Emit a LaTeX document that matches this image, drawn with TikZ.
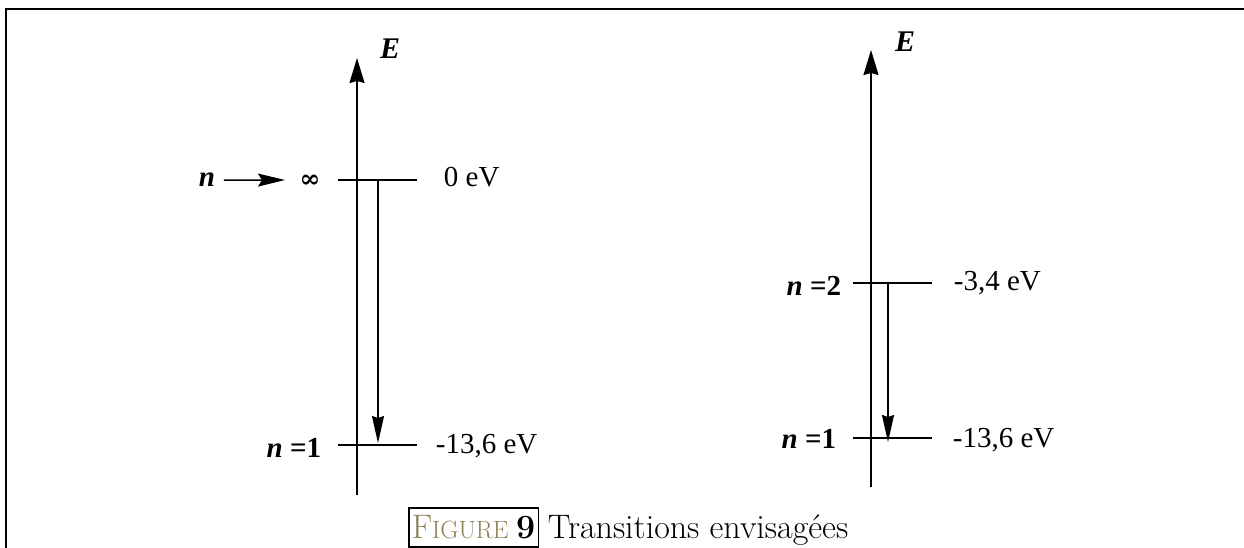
\documentclass[tikz,border=0pt]{standalone}
\usepackage{fontspec}
\newfontfamily\timesfont{Liberation Serif}
\newfontfamily\infont{DejaVu Serif}
\usetikzlibrary{arrows.meta}
\definecolor{figgold}{RGB}{139,131,90}
\begin{document}
\begin{tikzpicture}[x=1pt,y=-1pt,line width=1.8pt,
  every node/.style={font=\timesfont\fontsize{29}{30}\selectfont,inner sep=0pt},
  nlab/.style={font=\timesfont\bfseries\fontsize{29}{30}\selectfont},
  elab/.style={font=\timesfont\bfseries\itshape\fontsize{30}{30}\selectfont},
  axis/.style={-{Stealth[length=25pt,width=15pt,inset=2pt]}},
  trans/.style={line width=1.4pt,-{Stealth[length=27pt,width=12pt,inset=2pt]}}]
\useasboundingbox (0,0) rectangle (1244,548);
\draw[line width=2.6pt] (6,548) -- (6,9) -- (1244,9);
% left diagram
\coordinate (Ab) at (357,495);
\coordinate (At) at (357,58);
\coordinate (Linf) at (338,180);
\coordinate (Rinf) at (417,180);
\coordinate (Lone) at (338,445);
\coordinate (Rone) at (417,445);
\coordinate (Tinf) at (378,180);
\coordinate (Tone) at (378,443);
\draw[axis] (Ab) -- (At);
\draw (Linf) -- (Rinf);
\draw (Lone) -- (Rone);
\draw[trans] (Tinf) -- (Tone);
\node[elab,anchor=base] (EA) at (390,59) {E};
\node[nlab,anchor=base] (nA) at (207,187) {\itshape n};
\node[font=\infont\bfseries\fontsize{25}{25}\selectfont] (infA) at (310,181) {∞};
\draw[line width=1.4pt,-{Stealth[length=27pt,width=13pt,inset=4pt]}] (nA.east)+(8,0) coordinate (Sinf) -- (285,180) coordinate (Einf);
\node[anchor=base west] (zeroA) at (443,187) {0 eV};
\node[nlab,anchor=base east] (oneA) at (322,457) {\itshape n\upshape\ =1};
\node[anchor=base west] (gndA) at (435,453) {-13,6 eV};
% right diagram
\coordinate (Bb) at (871,487);
\coordinate (Bt) at (871,50);
\coordinate (Ltwo) at (853,283);
\coordinate (Rtwo) at (932,283);
\coordinate (Lgnd) at (853,438);
\coordinate (Rgnd) at (932,438);
\coordinate (Ttwo) at (888,283);
\coordinate (Tgnd) at (888,442);
\draw[axis] (Bb) -- (Bt);
\draw (Ltwo) -- (Rtwo);
\draw (Lgnd) -- (Rgnd);
\draw[trans] (Ttwo) -- (Tgnd);
\node[elab,anchor=base] (EB) at (905,52) {E};
\node[nlab,anchor=base east] (twoB) at (842,295) {\itshape n\upshape\ =2};
\node[nlab,anchor=base east] (oneB) at (837,448) {\itshape n\upshape\ =1};
\node[anchor=base west] (exB) at (953,290) {-3,4 eV};
\node[anchor=base west] (gndB) at (952,447) {-13,6 eV};
% caption
\node[draw,line width=1.5pt,inner xsep=3pt,inner ysep=3pt,text height=27pt,text depth=6pt,anchor=base west,font=\rmfamily] (figbox) at (408,538)
  {\color{figgold}\fontsize{34}{36}\selectfont F\fontsize{25}{27}\selectfont IGURE \color{black}\fontsize{34}{36}\selectfont\bfseries 9};
\node[anchor=base west,font=\rmfamily\fontsize{34}{36}\selectfont] (cap) at (547,538) {Transitions envisagées};
\end{tikzpicture}
\end{document}
